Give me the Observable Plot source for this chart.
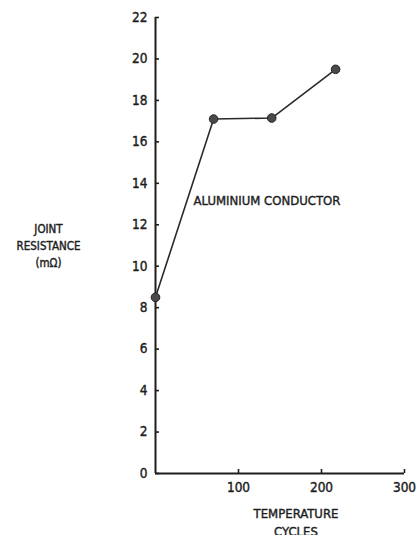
<!DOCTYPE html>
<html>
<head>
<meta charset="utf-8">
<script src="https://cdn.jsdelivr.net/npm/d3@7"></script>
<script src="https://cdn.jsdelivr.net/npm/@observablehq/plot@0.6"></script>
<style>
  html, body { margin: 0; padding: 0; background: #fff; }
  #chart svg { display: block; }
  /* thin same-colour outline gives the condensed face a heavier stroke */
  #chart svg text { stroke: #1e1e1e; stroke-width: 0.4px; }
</style>
</head>
<body>
<div id="chart"></div>
<script>
// Joint resistance of an aluminium conductor against temperature cycles
const cycles = [0, 70, 140, 217];
const resistance = [8.5, 17.1, 17.15, 19.5];
const yTicks = [0, 2, 4, 6, 8, 10, 12, 14, 16, 18, 20, 22];
const xTicks = [100, 200, 300];
const seriesLabel = "ALUMINIUM CONDUCTOR";
const yLabel = "JOINT\nRESISTANCE\n(mΩ)";
const xLabel = "TEMPERATURE\nCYCLES";

const points = cycles.map((c, i) => ({cycles: c, resistance: resistance[i]}));

const font = "'DejaVu Sans Condensed', 'Liberation Sans Narrow', sans-serif";
const ink = "#1e1e1e";

const chart = Plot.plot({
  width: 417,
  height: 535,
  marginLeft: 155,
  marginRight: 13,
  marginTop: 17,
  marginBottom: 62,
  style: {fontFamily: font, fontSize: "13px", color: ink, background: "#fff"},
  x: {domain: [0, 300]},
  y: {domain: [0, 22]},
  marks: [
    // axis lines
    Plot.ruleX([0], {stroke: ink, strokeWidth: 2}),
    Plot.ruleY([0], {stroke: ink, strokeWidth: 2}),
    // inward ticks and labels
    Plot.axisY(yTicks, {anchor: "left", tickSize: -4, tickPadding: 12, strokeWidth: 1.6, label: null, fontSize: 13.5}),
    Plot.axisX(xTicks, {anchor: "bottom", tickSize: -4, tickPadding: 13, strokeWidth: 1.6, label: null, fontSize: 13.5}),
    // series
    Plot.line(points, {x: "cycles", y: "resistance", stroke: "#2a2a2a", strokeWidth: 1.6}),
    Plot.dot(points, {x: "cycles", y: "resistance", r: 4.3, fill: "#4a4a4a", stroke: "#222", strokeWidth: 1}),
    // annotations
    Plot.text([seriesLabel], {frameAnchor: "middle", dx: -13, dy: -45, fontSize: 13, fill: ink}),
    Plot.text([yLabel], {frameAnchor: "left", textAnchor: "middle", dx: -107, dy: -1, fontSize: 11.5, lineHeight: 1.45, fill: ink}),
    Plot.text([xLabel], {frameAnchor: "bottom", dx: 16, dy: 32, lineAnchor: "top", fontSize: 13, lineHeight: 1.35, fill: ink})
  ]
});

document.getElementById("chart").append(chart);
</script>
</body>
</html>
